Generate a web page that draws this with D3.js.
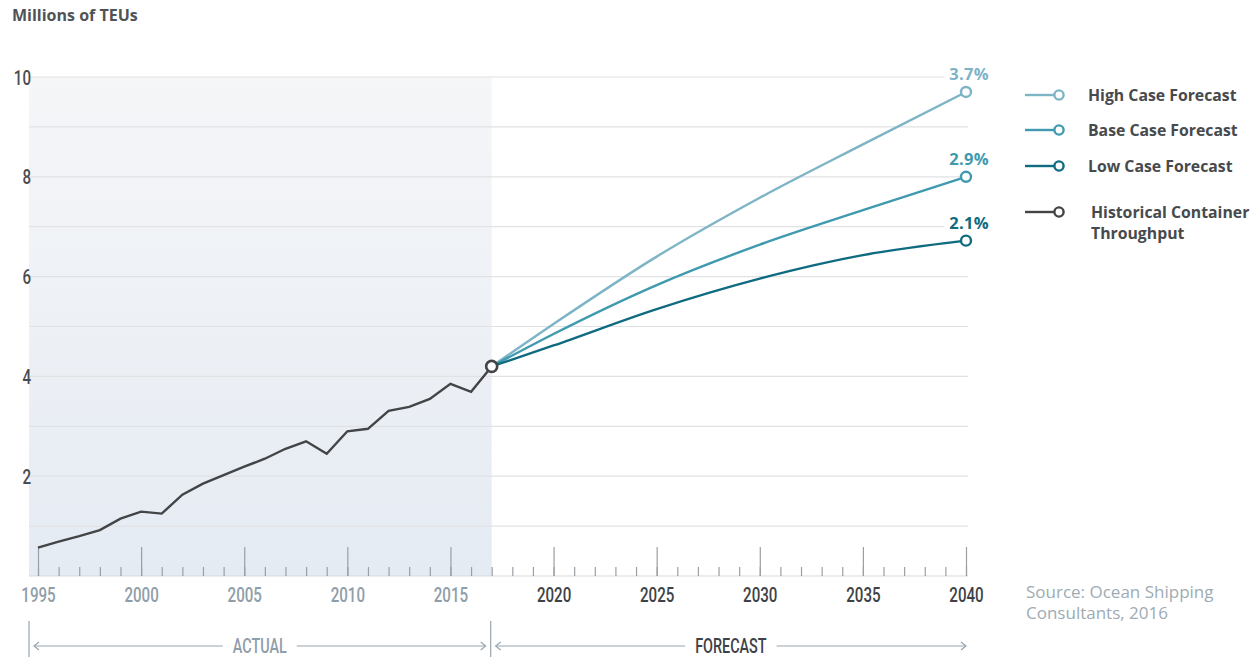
<!DOCTYPE html>
<html>
<head>
<meta charset="utf-8">
<script src="https://cdn.jsdelivr.net/npm/d3@7"></script>
<style>
  html, body { margin: 0; padding: 0; background: #fff; }
  svg { display: block; }
  .cond { font-family: Roboto, "Liberation Sans", sans-serif; font-weight: 500; }
  .sans { font-family: "Open Sans", "Liberation Sans", sans-serif; }
</style>
</head>
<body>
<svg id="chart" width="1255" height="657"></svg>
<script>
// Historical container throughput, millions of TEUs
const histYears = [1995,1996,1997,1998,1999,2000,2001,2002,2003,2004,2005,2006,2007,2008,2009,2010,2011,2012,2013,2014,2015,2016,2017];
const histValues = [0.57,0.69,0.80,0.92,1.15,1.29,1.25,1.63,1.85,2.02,2.19,2.35,2.55,2.70,2.45,2.90,2.95,3.31,3.39,3.55,3.85,3.69,4.20];

// Forecast scenarios
const forecastYears = [2017,2020,2025,2030,2035,2040];
const highValues = [4.20,5.05,6.40,7.58,8.65,9.70];
const baseValues = [4.20,4.85,5.83,6.64,7.33,8.00];
const lowValues  = [4.20,4.62,5.35,5.96,6.43,6.72];

const scenarioNames = ["High Case Forecast","Base Case Forecast","Low Case Forecast"];
const scenarioRates = ["3.7%","2.9%","2.1%"];
const scenarioColors = ["#7db4c6","#3f9ab0","#0f6b80"];
const histName = ["Historical Container","Throughput"];
const histColor = "#434445";

const yTickValues = [2,4,6,8,10];
const yGridValues = [1,2,3,4,5,6,7,8,9,10];
const majorYears = [1995,2000,2005,2010,2015,2020,2025,2030,2035,2040];
const allYears = d3.range(1995, 2041);
const splitYear = 2017;

const svg = d3.select("#chart");

const x = d3.scaleLinear().domain([1995, 2040]).range([38, 966]);
const y = d3.scaleLinear().domain([0, 10]).range([576, 77]);
const left = 29, right = 968;
const squeeze = 0.72; // horizontal compression for the condensed axis type

// background shading for the actual period
const defs = svg.append("defs");
const grad = defs.append("linearGradient").attr("id", "actualFill")
  .attr("x1", 0).attr("y1", 0).attr("x2", 0).attr("y2", 1);
grad.append("stop").attr("offset", "0%").attr("stop-color", "#f5f6f8");
grad.append("stop").attr("offset", "100%").attr("stop-color", "#e5ebf3");

svg.append("rect")
  .attr("x", left).attr("y", y(10))
  .attr("width", x(splitYear) - left)
  .attr("height", y(0) - y(10))
  .attr("fill", "url(#actualFill)");

// horizontal gridlines
svg.append("g")
  .selectAll("line").data(yGridValues).join("line")
  .attr("x1", left).attr("x2", right)
  .attr("y1", d => y(d)).attr("y2", d => y(d))
  .attr("stroke", "#e1e2e4").attr("stroke-width", 1.2);

// y tick labels
svg.append("g")
  .selectAll("text").data(yTickValues).join("text")
  .attr("class", "cond")
  .attr("transform", d => `translate(31,${y(d) + 7.5}) scale(${squeeze},1)`)
  .attr("text-anchor", "end")
  .attr("font-size", 21)
  .attr("fill", "#4a4c4f")
  .text(d => d);

// baseline and year ticks
const axisY = y(0);
svg.append("line")
  .attr("x1", left).attr("x2", right)
  .attr("y1", axisY).attr("y2", axisY)
  .attr("stroke", "#d6d9dd").attr("stroke-width", 1.2);

const minorAxis = d3.axisTop(x).tickValues(allYears).tickSize(9).tickFormat("");
const gMinor = svg.append("g").attr("transform", `translate(0,${axisY})`).call(minorAxis);
const majorAxis = d3.axisTop(x).tickValues(majorYears).tickSize(29).tickFormat("");
const gMajor = svg.append("g").attr("transform", `translate(0,${axisY})`).call(majorAxis);
[gMinor, gMajor].forEach(g => {
  g.select(".domain").remove();
  g.selectAll(".tick line").attr("stroke", "#9a9fa4").attr("stroke-width", 1.2);
});

// year labels
const labelAxis = d3.axisBottom(x).tickValues(majorYears).tickSize(0).tickPadding(0).tickFormat(d3.format("d"));
const gLab = svg.append("g").attr("transform", `translate(0,${axisY})`).call(labelAxis);
gLab.select(".domain").remove();
gLab.selectAll(".tick text")
  .attr("class", "cond")
  .attr("y", null).attr("dy", null)
  .attr("transform", `translate(0,26) scale(${squeeze},1)`)
  .attr("font-size", 21)
  .attr("fill", d => d <= splitYear ? "#8f9ea9" : "#3e4246");
gLab.attr("font-family", null).attr("font-size", null);

// lines
const line = d3.line().x(d => x(d[0])).y(d => y(d[1])).curve(d3.curveMonotoneX);
const histLine = d3.line().x(d => x(d[0])).y(d => y(d[1]));

const scenarios = [highValues, baseValues, lowValues];
scenarios.forEach((vals, i) => {
  const pts = forecastYears.map((yr, k) => [yr, vals[k]]);
  svg.append("path").datum(pts)
    .attr("d", line)
    .attr("fill", "none")
    .attr("stroke", scenarioColors[i])
    .attr("stroke-width", 2.4);
});

svg.append("path")
  .datum(histYears.map((yr, k) => [yr, histValues[k]]))
  .attr("d", histLine)
  .attr("fill", "none")
  .attr("stroke", histColor)
  .attr("stroke-width", 2.4)
  .attr("stroke-linejoin", "miter");

// end markers and growth-rate labels
scenarios.forEach((vals, i) => {
  const last = vals[vals.length - 1];
  const cx = x(2040), cy = y(last);
  const g = svg.append("g");
  const t = g.append("text").attr("class", "sans")
    .attr("x", cx + 3).attr("y", cy - 12)
    .attr("text-anchor", "middle")
    .attr("font-size", 16.5).attr("font-weight", 700)
    .attr("letter-spacing", 0.3)
    .attr("fill", scenarioColors[i])
    .text(scenarioRates[i]);
  const bb = t.node().getBBox();
  g.insert("rect", "text")
    .attr("x", bb.x - 5).attr("y", bb.y).attr("width", bb.width + 10).attr("height", bb.height)
    .attr("fill", "#fff");
  svg.append("circle").attr("cx", cx).attr("cy", cy).attr("r", 5)
    .attr("fill", "#fff").attr("stroke", scenarioColors[i]).attr("stroke-width", 2.4);
});

svg.append("circle")
  .attr("cx", x(splitYear)).attr("cy", y(histValues[histValues.length - 1])).attr("r", 5.5)
  .attr("fill", "#fff").attr("stroke", histColor).attr("stroke-width", 2.6);

// y-axis title
svg.append("text").attr("class", "sans")
  .attr("x", 12).attr("y", 21)
  .attr("font-size", 16).attr("font-weight", 700)
  .attr("fill", "#505356")
  .text("Millions of TEUs");

// legend
const legendItems = scenarioNames.map((n, i) => ({ lines: [n], color: scenarioColors[i] }))
  .concat([{ lines: histName, color: histColor }]);
const legendY = [95, 130, 166, 212];
const legend = svg.append("g");
legendItems.forEach((d, i) => {
  const ly = legendY[i];
  legend.append("line").attr("x1", 1025).attr("x2", 1055).attr("y1", ly).attr("y2", ly)
    .attr("stroke", d.color).attr("stroke-width", 2.4);
  legend.append("circle").attr("cx", 1059).attr("cy", ly).attr("r", 4.6)
    .attr("fill", "#fff").attr("stroke", d.color).attr("stroke-width", 2.4);
  const tx = i === 3 ? 1091 : 1088;
  const t = legend.append("text").attr("class", "sans")
    .attr("x", tx).attr("y", ly + 5.5)
    .attr("font-size", 15.8).attr("font-weight", 700)
    .attr("fill", "#474a4d");
  d.lines.forEach((ln, k) => t.append("tspan").attr("x", tx).attr("dy", k === 0 ? 0 : 21.5).text(ln));
});

// source note
const src = svg.append("text").attr("class", "sans")
  .attr("x", 1026).attr("y", 598)
  .attr("font-size", 17).attr("fill", "#9eabb3");
src.append("tspan").attr("x", 1026).text("Source: Ocean Shipping");
src.append("tspan").attr("x", 1026).attr("dy", 21).text("Consultants, 2016");

// period brackets
const bracketTop = 621, arrowY = 646;
const periods = [
  { label: "ACTUAL", x0: left, x1: x(splitYear) - 1, color: "#8f9ea9" },
  { label: "FORECAST", x0: x(splitYear) - 1, x1: right + 3, color: "#3e4246" }
];
const lineColor = "#98a6b0";
svg.append("g").selectAll("line").data([left, x(splitYear) - 1]).join("line")
  .attr("x1", d => d).attr("x2", d => d).attr("y1", bracketTop).attr("y2", 657)
  .attr("stroke", lineColor).attr("stroke-width", 1.2);

periods.forEach(p => {
  const a = p.x0 + 5, b = p.x1 - 5;
  const mid = (a + b) / 2;
  const t = svg.append("text").attr("class", "cond")
    .attr("transform", `translate(${mid},${arrowY + 6.5}) scale(${squeeze},1)`)
    .attr("text-anchor", "middle")
    .attr("font-size", 20)
    .attr("fill", p.color)
    .text(p.label);
  const w = t.node().getComputedTextLength() * squeeze;
  const gap = 10;
  svg.append("line").attr("x1", a).attr("x2", mid - w / 2 - gap).attr("y1", arrowY).attr("y2", arrowY)
    .attr("stroke", lineColor).attr("stroke-width", 1.2);
  svg.append("line").attr("x1", mid + w / 2 + gap).attr("x2", b).attr("y1", arrowY).attr("y2", arrowY)
    .attr("stroke", lineColor).attr("stroke-width", 1.2);
  // arrowheads
  svg.append("path").attr("d", `M${a + 5},${arrowY - 4} L${a},${arrowY} L${a + 5},${arrowY + 4}`)
    .attr("fill", "none").attr("stroke", lineColor).attr("stroke-width", 1.2);
  svg.append("path").attr("d", `M${b - 5},${arrowY - 4} L${b},${arrowY} L${b - 5},${arrowY + 4}`)
    .attr("fill", "none").attr("stroke", lineColor).attr("stroke-width", 1.2);
});
</script>
</body>
</html>
